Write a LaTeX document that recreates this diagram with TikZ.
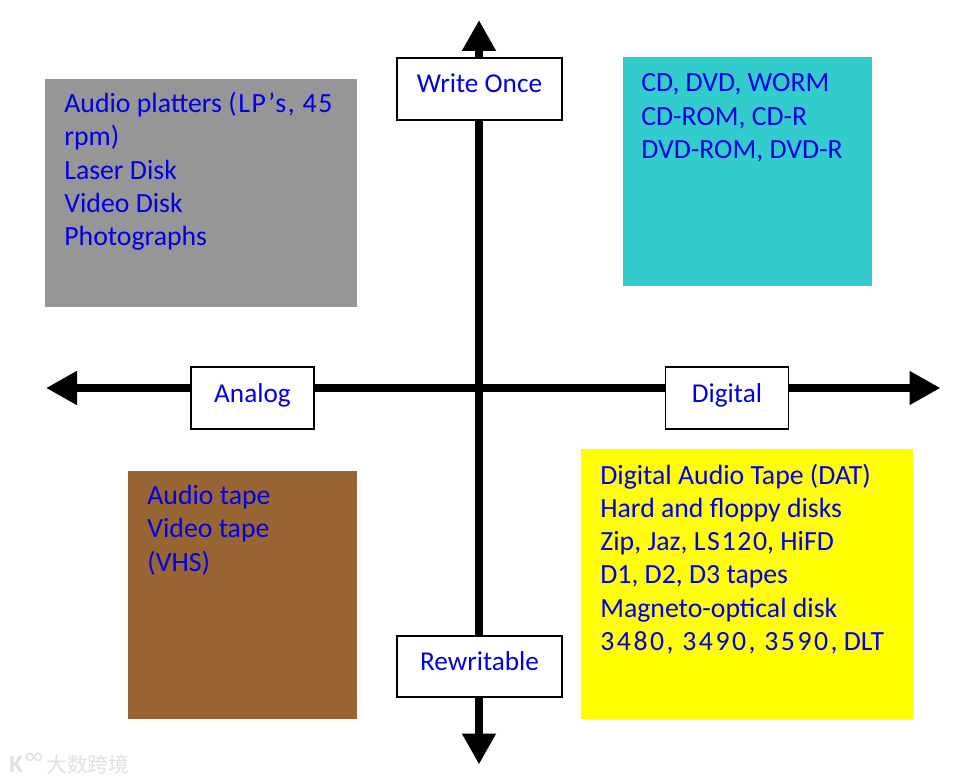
\documentclass[tikz,border=0pt]{standalone}
\usepackage{fontspec}
\setmainfont{Carlito}
\newfontfamily\cjkfont{Noto Sans CJK SC}
\usetikzlibrary{arrows.meta}
\definecolor{greybox}{RGB}{150,150,150}
\definecolor{tealbox}{RGB}{51,204,204}
\definecolor{brownbox}{RGB}{153,102,51}
\definecolor{yellowbox}{RGB}{255,255,0}
\definecolor{labelblue}{RGB}{0,0,230}
\newcommand{\widedigits}[2][6]{{\addfontfeature{LetterSpace=#1}#2}}
\tikzset{
  axisline/.style={line width=4.5pt,{Triangle[length=0.62cm,width=0.64cm]}-{Triangle[length=0.62cm,width=0.64cm]}},
  axislabel/.style={draw,thick,fill=white,text=labelblue,font=\fontsize{15.5}{18}\selectfont,
    inner sep=0pt,text height=0.36cm,text depth=0.2cm},
  mediabox/.style={anchor=north west,inner sep=0pt,text=labelblue,align=left,
    font=\fontsize{15.8}{18.9}\selectfont},
}
\begin{document}
\begin{tikzpicture}

\useasboundingbox (0,0) rectangle (19.56,15.66);

\fill[greybox] (0.90,9.52) rectangle (7.14,14.08);
\fill[tealbox] (12.46,9.94) rectangle (17.44,14.52);
\fill[brownbox] (2.56,1.28) rectangle (7.14,6.24);
\fill[yellowbox] (11.62,1.28) rectangle (18.26,6.68);

\node[mediabox] (analogfixed) at (1.28,13.82) {Audio platters \widedigits{(LP's, 45}\\rpm)\\Laser Disk\\Video Disk\\Photographs};
\node[mediabox] (digitalfixed) at (12.82,14.19) {CD, DVD, WORM\\CD-ROM, CD-R\\DVD-ROM, DVD-R};
\node[mediabox] (analogrw) at (2.94,5.96) {Audio tape\\Video tape\\(VHS)};
\node[mediabox] (digitalrw) at (12.00,6.39) {Digital Audio Tape (DAT)\\Hard and floppy disks\\Zip, Jaz, \widedigits{LS120}, HiFD\\D1, D2, D3 tapes\\Magneto-optical disk\\\widedigits[9]{3480, 3490, 3590,} DLT};

\coordinate (top) at (9.58,15.26);
\coordinate (bottom) at (9.58,0.37);
\coordinate (left) at (0.92,7.90);
\coordinate (right) at (18.81,7.90);

\draw[axisline] (bottom) -- (top);
\draw[axisline] (left) -- (right);

\node[axislabel,minimum width=3.3cm,minimum height=1.24cm] (once) at (9.59,13.88) {Write Once};
\node[axislabel,minimum width=3.3cm,minimum height=1.22cm] (rewrite) at (9.59,2.33) {Rewritable};
\node[axislabel,minimum width=2.46cm,minimum height=1.24cm] (analog) at (5.05,7.70) {Analog};
\node[axislabel,minimum width=2.46cm,minimum height=1.24cm] (digital) at (14.54,7.70) {Digital};

\node[text=black!12,font=\cjkfont\fontsize{11.8}{13}\selectfont,anchor=west,inner sep=0pt] (mark) at (0.92,0.36) {大数跨境};
\node[text=black!12,font=\bfseries\fontsize{14}{16}\selectfont,anchor=west,inner sep=0pt] (logo) at (0.18,0.36) {K};
\draw[black!12,thick] (0.60,0.52) circle (0.07) (0.76,0.52) circle (0.07);

\end{tikzpicture}
\end{document}
